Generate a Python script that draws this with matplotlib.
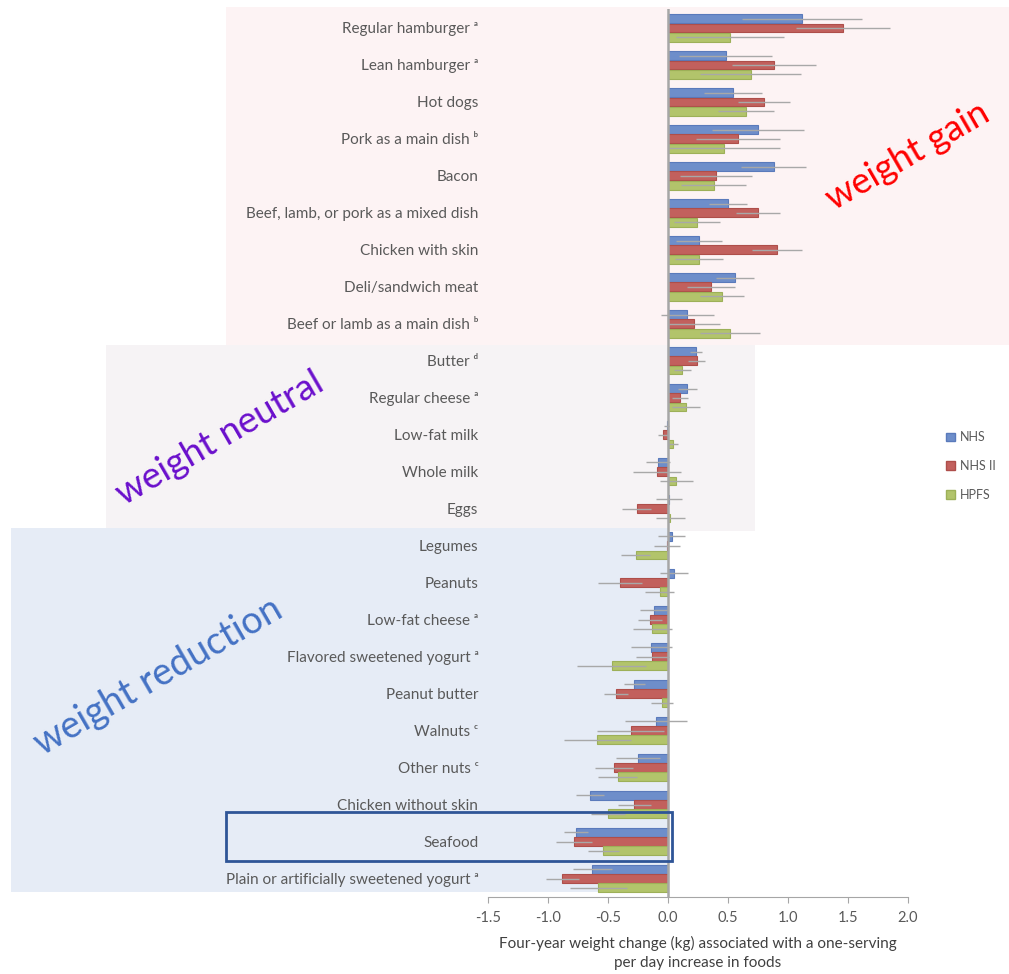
import numpy as np
import matplotlib
matplotlib.use("Agg")
import matplotlib.pyplot as plt
from matplotlib.patches import Rectangle, Patch

plt.rcParams['font.family'] = ['Lato', 'DejaVu Sans']

foods = [
    "Regular hamburger \u1d43", "Lean hamburger \u1d43", "Hot dogs",
    "Pork as a main dish \u1d47", "Bacon", "Beef, lamb, or pork as a mixed dish",
    "Chicken with skin", "Deli/sandwich meat", "Beef or lamb as a main dish \u1d47",
    "Butter \u1d48", "Regular cheese \u1d43", "Low-fat milk", "Whole milk", "Eggs",
    "Legumes", "Peanuts", "Low-fat cheese \u1d43", "Flavored sweetened yogurt \u1d43",
    "Peanut butter", "Walnuts \u1d9c", "Other nuts \u1d9c", "Chicken without skin",
    "Seafood", "Plain or artificially sweetened yogurt \u1d43",
]

nhs = [1.12, 0.48, 0.54, 0.75, 0.88, 0.50, 0.26, 0.56, 0.16, 0.23, 0.16, -0.01,
       -0.08, 0.01, 0.03, 0.05, -0.12, -0.14, -0.28, -0.10, -0.25, -0.65, -0.77, -0.63]
nhs_err = [0.50, 0.39, 0.24, 0.38, 0.27, 0.16, 0.19, 0.16, 0.22, 0.05, 0.08, 0.02,
           0.10, 0.11, 0.11, 0.12, 0.11, 0.17, 0.09, 0.26, 0.18, 0.12, 0.10, 0.16]
nhs2 = [1.46, 0.88, 0.80, 0.58, 0.40, 0.75, 0.91, 0.36, 0.22, 0.24, 0.10, -0.04,
        -0.09, -0.26, -0.01, -0.40, -0.15, -0.13, -0.43, -0.31, -0.45, -0.28, -0.78, -0.88]
nhs2_err = [0.39, 0.35, 0.22, 0.35, 0.30, 0.18, 0.21, 0.20, 0.21, 0.07, 0.07, 0.04,
            0.20, 0.12, 0.11, 0.18, 0.10, 0.14, 0.10, 0.28, 0.16, 0.14, 0.15, 0.14]
hpfs = [0.52, 0.69, 0.65, 0.47, 0.38, 0.24, 0.26, 0.45, 0.52, 0.12, 0.15, 0.04,
        0.07, 0.02, -0.27, -0.07, -0.13, -0.47, -0.05, -0.59, -0.42, -0.50, -0.54, -0.58]
hpfs_err = [0.45, 0.42, 0.23, 0.46, 0.27, 0.19, 0.20, 0.18, 0.25, 0.07, 0.12, 0.04,
            0.14, 0.12, 0.12, 0.12, 0.16, 0.29, 0.09, 0.28, 0.16, 0.14, 0.13, 0.24]

series = [("NHS", nhs, nhs_err, "#6E8ECA", "#5A7ABB"),
          ("NHS II", nhs2, nhs2_err, "#C2605D", "#AE4E4A"),
          ("HPFS", hpfs, hpfs_err, "#B2C46B", "#9DB058")]

W, H = 1009, 974
fig = plt.figure(figsize=(W / 100, H / 100), dpi=100)


def fig_rect(x0, y0, x1, y1, color):
    # pixel box (top-left origin) -> figure coords
    fig.patches.append(Rectangle((x0 / W, 1 - y1 / H), (x1 - x0) / W, (y1 - y0) / H,
                                 transform=fig.transFigure, facecolor=color,
                                 edgecolor='none', zorder=0))


fig_rect(226, 7, 1009, 345, "#FDF3F4")
fig_rect(106, 345, 755, 531, "#F6F3F5")
fig_rect(11, 528, 669, 892, "#E6ECF6")

ax = fig.add_axes([488 / W, 1 - 897 / H, 420 / W, (897 - 9.5) / H])
ax.set_facecolor('none')
ax.set_zorder(2)

y = np.arange(len(foods))
h = 0.24
for k, (name, vals, errs, fc, ec) in enumerate(series):
    ax.barh(y + (k - 1) * 0.25, vals, height=h, color=fc, edgecolor=ec, linewidth=0.8,
            xerr=errs, error_kw=dict(ecolor='#A8A8A8', elinewidth=1.0, capsize=0),
            label=name, zorder=3)

ax.axvline(0, color='#A6A6A6', lw=1.8, zorder=4)
ax.set_xlim(-1.5, 2.0)
ax.set_ylim(len(foods) - 0.5, -0.5)
ax.set_xticks(np.arange(-1.5, 2.01, 0.5))
ax.set_xticklabels([f"{v:.1f}" for v in np.arange(-1.5, 2.01, 0.5)])
ax.set_yticks(y)
ax.set_yticklabels(foods)
ax.tick_params(axis='y', length=0, pad=7, labelsize=11, labelcolor='#595959')
ax.tick_params(axis='x', length=4, color='#A6A6A6', labelsize=10.5, labelcolor='#595959', pad=6)
for s in ['top', 'right', 'left']:
    ax.spines[s].set_visible(False)
ax.spines['bottom'].set_color('#A6A6A6')
ax.set_xlabel("Four-year weight change (kg) associated with a one-serving\nper day increase in foods",
              fontsize=11, color='#404040', labelpad=8, linespacing=1.45)

handles = [Patch(facecolor=fc, edgecolor=ec) for _, _, _, fc, ec in series]
fig.legend(handles, [s[0] for s in series], loc='upper left',
           bbox_to_anchor=(935 / W, 1 - 420 / H), frameon=False, fontsize=9,
           handlelength=0.7, handleheight=0.7, handletextpad=0.4, labelspacing=1.35,
           labelcolor='#595959')

# Seafood highlight box
fig.patches.append(Rectangle((226 / W, 1 - 861 / H), (672 - 226) / W, (861 - 812) / H,
                             transform=fig.transFigure, facecolor='none',
                             edgecolor='#2F5597', linewidth=2, zorder=5))

fig.text(908 / W, 1 - 156 / H, "weight gain", color='#FF0000', fontsize=26,
         rotation=30, ha='center', va='center', rotation_mode='anchor')
fig.text(220 / W, 1 - 438 / H, "weight neutral", color='#6A0FCC', fontsize=26.5,
         rotation=30, ha='center', va='center', rotation_mode='anchor')
fig.text(158 / W, 1 - 676 / H, "weight reduction", color='#4472C4', fontsize=27,
         rotation=30, ha='center', va='center', rotation_mode='anchor')

fig.savefig("out.png", dpi=100)
